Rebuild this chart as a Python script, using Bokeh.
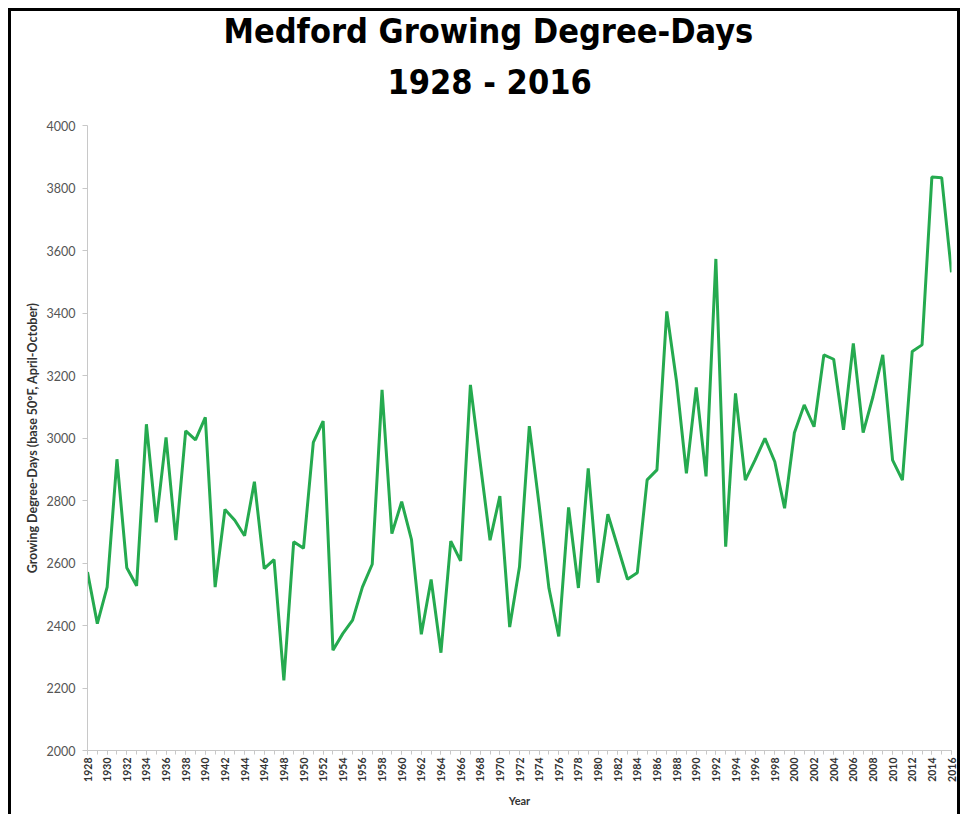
import math
from bokeh.plotting import figure
from bokeh.models import Range1d, FixedTicker, Title
from bokeh.embed import file_html
from bokeh.resources import INLINE

years = list(range(1928, 2017))
gdd = [
    2571, 2406, 2523, 2932, 2585, 2527, 3044, 2730, 3002, 2673,
    3023, 2994, 3066, 2523, 2771, 2737, 2687, 2860, 2582, 2611,
    2224, 2668, 2647, 2986, 3054, 2321, 2374, 2417, 2523, 2596,
    3154, 2694, 2796, 2675, 2372, 2547, 2313, 2670, 2607, 3170,
    2920, 2673, 2814, 2395, 2588, 3038, 2785, 2519, 2365, 2778,
    2520, 2903, 2537, 2756, 2652, 2548, 2569, 2866, 2898, 3405,
    3180, 2887, 3162, 2877, 3573, 2652, 3143, 2865, 2930, 2999,
    2924, 2775, 3017, 3106, 3036, 3266, 3252, 3026, 3303, 3017,
    3132, 3266, 2929, 2865, 3277, 3298, 3835, 3833, 3530,
]
y_ticks = [2000, 2200, 2400, 2600, 2800, 3000, 3200, 3400, 3600, 3800, 4000]
x_major_ticks = years[::2]

title_line1 = "Medford Growing Degree-Days"
title_line2 = "1928 - 2016"
y_label = "Growing Degree-Days (base 50\u00b0F, April-October)"
x_label = "Year"

p = figure(width=952, height=806, output_backend="svg", toolbar_location=None,
           x_range=Range1d(1928, 2016), y_range=Range1d(2000, 4000),
           min_border_left=76, min_border_right=12, min_border_top=114,
           min_border_bottom=67)
p.styles = {"margin-left": "8px", "margin-top": "8px",
            "border-top": "3px solid black", "border-left": "3px solid black",
            "border-right": "3px solid black"}

tfont = "DejaVu Sans Condensed"
t2 = Title(text=title_line2, align="left", offset=300, text_font=tfont,
           text_font_size="34px", text_font_style="bold", text_color="black",
           text_line_height=0.25, standoff=47)
t1 = Title(text=title_line1, align="left", offset=136, text_font=tfont,
           text_font_size="34px", text_font_style="bold", text_color="black",
           text_line_height=0.25, standoff=-28)
p.add_layout(t2, "above")
p.add_layout(t1, "above")

p.line(years, gdd, line_color="#25aa4f", line_width=3)

p.outline_line_color = None
p.xgrid.grid_line_color = None
p.ygrid.grid_line_color = None
p.background_fill_color = "white"
p.border_fill_color = "white"

font = "Lato"
p.yaxis.ticker = FixedTicker(ticks=y_ticks)
p.yaxis.axis_line_color = "#c8c8c8"
p.yaxis.major_tick_line_color = "#c8c8c8"
p.yaxis.major_tick_out = 5
p.yaxis.major_tick_in = 0
p.yaxis.minor_tick_line_color = None
p.yaxis.major_label_text_font = font
p.yaxis.major_label_text_font_size = "12.5px"
p.yaxis.major_label_text_color = "#555555"
p.yaxis.major_label_standoff = 7
p.yaxis.axis_label = y_label
p.yaxis.axis_label_text_font = font
p.yaxis.axis_label_text_font_size = "12.5px"
p.yaxis.axis_label_text_font_style = "bold"
p.yaxis.axis_label_text_color = "#333333"
p.yaxis.axis_label_standoff = 4

p.xaxis.ticker = FixedTicker(ticks=x_major_ticks, minor_ticks=years)
p.xaxis.axis_line_color = "#c8c8c8"
p.xaxis.major_tick_line_color = "#c8c8c8"
p.xaxis.minor_tick_line_color = "#c8c8c8"
p.xaxis.major_tick_out = 4
p.xaxis.major_tick_in = 0
p.xaxis.minor_tick_out = 4
p.xaxis.minor_tick_in = 0
p.xaxis.major_label_orientation = math.pi / 2
p.xaxis.major_label_text_font = font
p.xaxis.major_label_text_font_size = "10.5px"
p.xaxis.major_label_text_font_style = "bold"
p.xaxis.major_label_text_color = "#333333"
p.xaxis.major_label_standoff = 3
p.xaxis.axis_label = x_label
p.xaxis.axis_label_text_font = font
p.xaxis.axis_label_text_font_size = "11px"
p.xaxis.axis_label_text_font_style = "bold"
p.xaxis.axis_label_text_color = "#333333"
p.xaxis.axis_label_standoff = 9

open("out.html", "w").write(file_html(p, INLINE))
